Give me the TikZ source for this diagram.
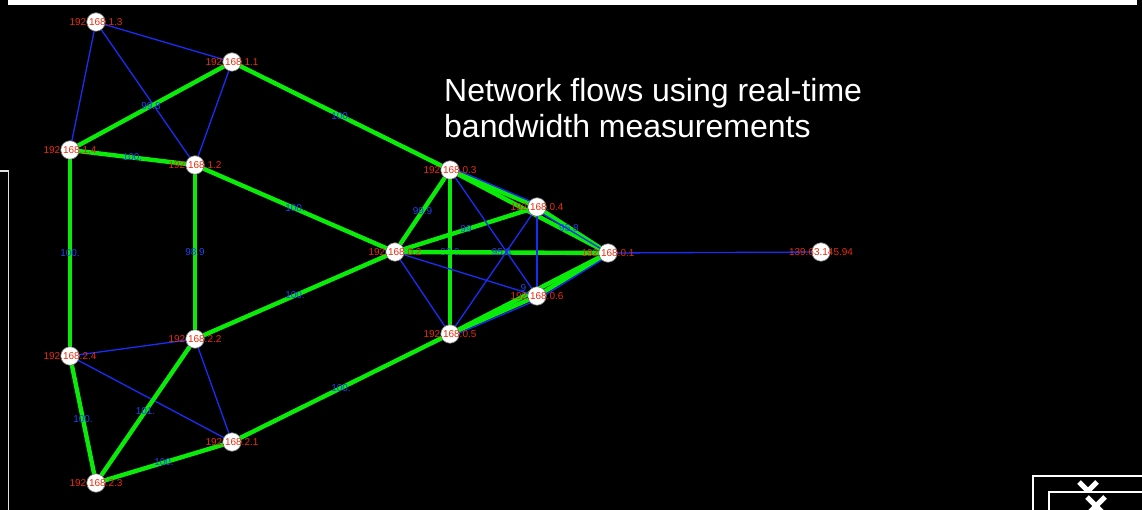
\documentclass[tikz,border=0pt]{standalone}
\usepackage{fontspec}
\setmainfont{Liberation Sans}
\definecolor{lgreen}{RGB}{10,235,10}
\definecolor{lblue}{RGB}{25,45,245}
\definecolor{tred}{RGB}{232,45,15}
\definecolor{tblue}{RGB}{30,70,235}
\pgfdeclarelayer{bglayer}
\pgfsetlayers{bglayer,main}
\begin{document}
\begin{tikzpicture}[x=1pt,y=-1pt,
  gedge/.style={draw=lgreen,line width=4.4pt},
  bedge/.style={draw=lblue,line width=1.3pt},
  elab/.style={text=tblue,font=\fontsize{10}{12}\selectfont,inner sep=0pt},
  hlab/.style={text=tred,font=\fontsize{10}{12}\selectfont,inner sep=0pt},
  host/.style={circle,fill=white,draw=black!55,line width=0.6pt,minimum size=18.5pt,inner sep=0pt,label={[hlab]center:#1}},
  frame/.style={draw=white,line width=2pt,fill=black},
  xmark/.style={draw=white,line width=5pt}]
\useasboundingbox (0,0) rectangle (1142,510);
% hosts
\node[host=192.168.1.3] (n13) at (96,22) {};
\node[host=192.168.1.1] (n11) at (232,62) {};
\node[host=192.168.1.4] (n14) at (70,150) {};
\node[host=192.168.1.2] (n12) at (195,165) {};
\node[host=192.168.0.3] (n03) at (450,170) {};
\node[host=192.168.0.4] (n04) at (537,207) {};
\node[host=192.168.0.2] (n02) at (395,252) {};
\node[host=192.168.0.1] (n01) at (608,253) {};
\node[host=139.63.145.94] (ext) at (821,252) {};
\node[host=192.168.0.6] (n06) at (537,296) {};
\node[host=192.168.0.5] (n05) at (450,334) {};
\node[host=192.168.2.2] (n22) at (195,339) {};
\node[host=192.168.2.4] (n24) at (70,356) {};
\node[host=192.168.2.1] (n21) at (232,442) {};
\node[host=192.168.2.3] (n23) at (96,483) {};
\begin{pgfonlayer}{bglayer}
\fill[black] (0,0) rectangle (1142,510);
% thin blue links
\draw[bedge] (n13.center) -- (n11.center);
\draw[bedge] (n13.center) -- (n14.center);
\draw[bedge] (n13.center) -- (n12.center);
\draw[bedge] (n11.center) -- (n12.center);
\draw[bedge] (n24.center) -- (n22.center);
\draw[bedge] (n24.center) -- (n21.center);
\draw[bedge] (n22.center) -- (n21.center);
\draw[bedge] (n01.center) -- (ext.center);
% green flows
\draw[gedge] (n14.center) -- node[elab]{99.8} (n11.center);
\draw[gedge] (n14.center) -- node[elab]{100.} (n12.center);
\draw[gedge] (n11.center) -- node[elab]{100.} (n03.center);
\draw[gedge] (n12.center) -- node[elab]{100.} (n02.center);
\draw[gedge] (n12.center) -- node[elab]{98.9} (n22.center);
\draw[gedge] (n14.center) -- node[elab]{100.} (n24.center);
\draw[gedge] (n22.center) -- node[elab]{100.} (n02.center);
\draw[gedge] (n21.center) -- node[elab]{100.} (n05.center);
\draw[gedge] (n24.center) -- node[elab]{100.} (n23.center);
\draw[gedge] (n22.center) -- node[elab]{101.} (n23.center);
\draw[gedge] (n23.center) -- node[elab]{100.} (n21.center);
\draw[gedge] (n03.center) -- (n04.center);
\draw[gedge] (n03.center) -- (n01.center);
\draw[gedge] (n05.center) -- (n06.center);
\draw[gedge] (n05.center) -- (n01.center);
\draw[gedge] (n06.center) -- (n01.center);
\draw[gedge] (n02.center) -- node[elab]{99.9} (n03.center);
\draw[gedge] (n02.center) -- node[elab]{99} (n04.center);
\draw[gedge] (n03.center) -- node[elab]{99.9} (n05.center);
\draw[gedge] (n02.center) -- node[elab]{95.8} (n01.center);
\draw[gedge] (n04.center) -- node[elab,pos=0.45]{95.8} (n01.center);
% blue links inside the core
\draw[bedge] ([yshift=3pt]n03.center) -- ([yshift=3pt]n04.center);
\draw[bedge] ([yshift=-3.5pt]n04.center) -- (n01.center);
\draw[bedge] ([yshift=-3pt]n05.center) -- ([yshift=-4pt]n06.center);
\draw[bedge] ([yshift=-4pt]n06.center) -- ([yshift=-3pt]n01.center);
\draw[bedge] (n03.center) -- (n06.center);
\draw[bedge] (n04.center) -- (n05.center);
\draw[bedge] (n04.center) -- (n06.center);
\draw[bedge] (n02.center) -- (n06.center);
\draw[bedge] (n02.center) -- (n05.center);
\node[elab] (lab9) at (523.5,288.5) {9};
\end{pgfonlayer}
% title
\node[anchor=north west,inner sep=0pt,align=left,text=white,font=\fontsize{32}{36}\selectfont] (title) at (444,78) {Network flows using real-time\\bandwidth measurements};
% window frames around the picture
\fill[white] (8,-1) rectangle (1137,5);
\draw[draw=white!88!black,line width=1.8pt] (-5,171) -- (8.5,171) -- (8.5,515);
\draw[frame] (1033,476) rectangle (1160,530);
\draw[xmark] (1079,482) -- (1097,500) (1097,482) -- (1079,500);
\draw[frame] (1049,492) rectangle (1160,530);
\draw[xmark] (1087,497) -- (1105,515) (1105,497) -- (1087,515);
\end{tikzpicture}
\end{document}
